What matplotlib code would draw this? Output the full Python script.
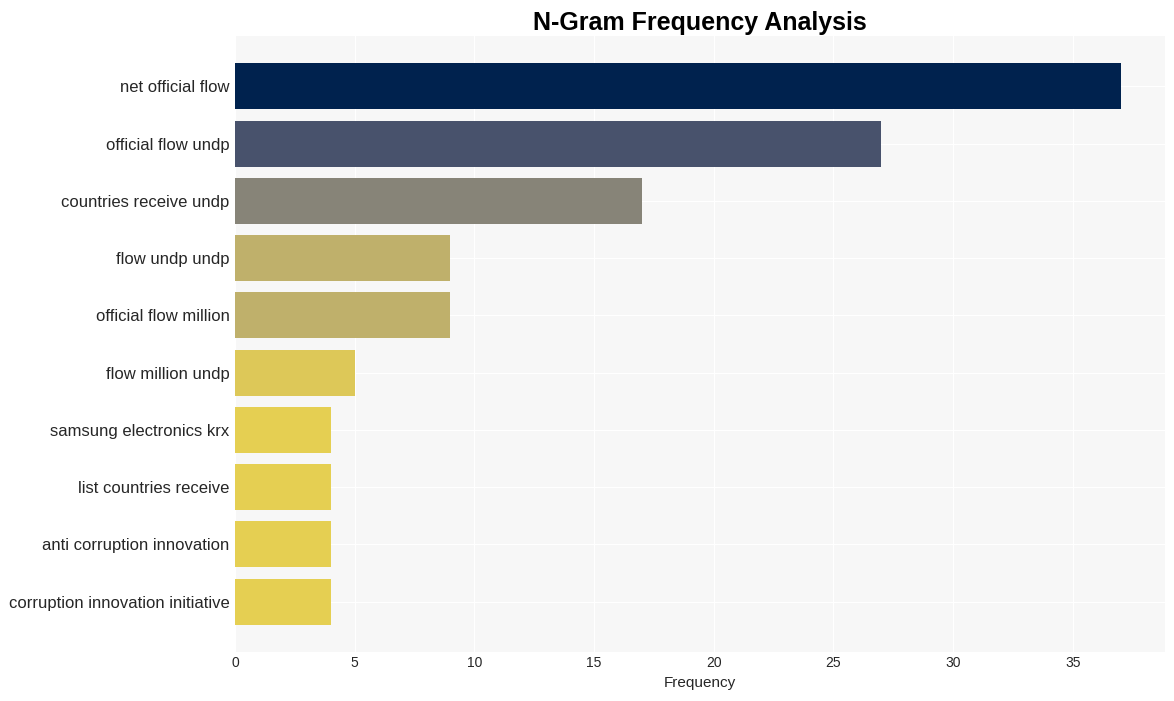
import matplotlib
matplotlib.use("Agg")
import matplotlib.pyplot as plt
import numpy as np

ngrams = [
    "net official flow",
    "official flow undp",
    "countries receive undp",
    "flow undp undp",
    "official flow million",
    "flow million undp",
    "samsung electronics krx",
    "list countries receive",
    "anti corruption innovation",
    "corruption innovation initiative",
]
frequencies = [37, 27, 17, 9, 9, 5, 4, 4, 4, 4]

plt.rcParams['font.family'] = ['Liberation Sans', 'DejaVu Sans']

fig = plt.figure(figsize=(11.74, 7.01), dpi=100)
ax = fig.add_axes([235/1174, 1 - 652/701, (1165-235)/1174, (652-36)/701])
ax.set_facecolor('#f7f7f7')

vals = np.array(frequencies, dtype=float)
norm = 0.9 * (vals.max() - vals) / (vals.max() - vals.min())
colors = [plt.cm.cividis(n) for n in norm]

y = np.arange(len(ngrams))
ax.barh(y, frequencies, height=0.8, color=colors, zorder=2)
ax.set_yticks(y)
ax.set_yticklabels(ngrams, fontsize=12, color='#262626')
ax.set_ylim(len(ngrams) - 1 + 0.88, -0.88)
ax.set_xlim(0, max(frequencies) * 1.05)
ax.set_xticks([0, 5, 10, 15, 20, 25, 30, 35])
ax.tick_params(axis='x', labelsize=10, colors='#262626', length=0, pad=3)
ax.tick_params(axis='y', length=0, pad=4)
ax.grid(True, color='white', linewidth=0.8, zorder=0)
ax.set_axisbelow(True)
for s in ax.spines.values():
    s.set_visible(False)
ax.set_xlabel("Frequency", fontsize=11, color='#262626', labelpad=4)
ax.set_title("N-Gram Frequency Analysis", fontsize=18, fontweight='bold', pad=4)

fig.savefig("out.png", dpi=100)
